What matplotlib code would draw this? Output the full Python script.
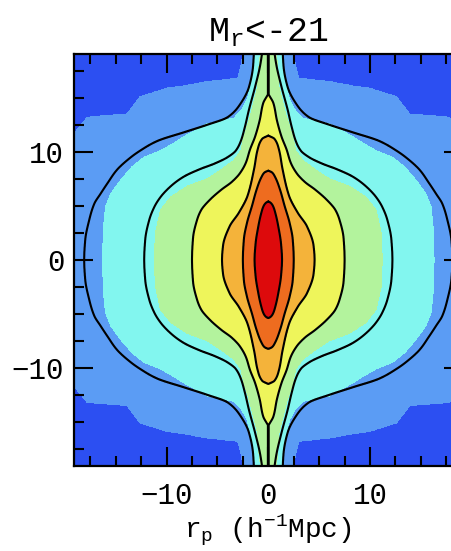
import numpy as np
import matplotlib
matplotlib.use("Agg")
import matplotlib.pyplot as plt
from matplotlib.ticker import MultipleLocator

# ---------------- data ----------------
# Half-widths |r_p| (h^-1 Mpc) of each contour, tabulated against |pi| (h^-1 Mpc).
# Smooth model contours (black lines), outermost -> innermost.
L1_pi = [0, 1.8, 3.7, 5.2, 6.1, 7.1, 8.3, 9.5, 10.1, 11.0, 11.8, 12.5, 13.2, 14.5, 16.0, 17.9, 19.5]
L1_rp = [18.1, 18.0, 17.6, 17.1, 16.5, 15.8, 14.9, 13.5, 12.6, 10.9, 8.3, 6.0, 4.0, 2.7, 1.9, 1.5, 1.4]
L2_pi = [0, 1.85, 3.7, 4.9, 5.8, 6.8, 7.7, 8.4, 8.9, 9.5, 10.1, 11.0, 12.3, 13.9, 16.0, 18.0, 19.5]
L2_rp = [12.2, 12.1, 11.7, 11.2, 10.6, 9.6, 8.3, 6.7, 5.3, 4.0, 3.2, 2.7, 2.3, 1.9, 1.3, 0.8, 0.55]
L3_pi = [0, 2.0, 3.7, 4.6, 5.5, 6.5, 7.2, 8.0, 9.0, 10.2, 11.4, 12.9, 14.5, 15.2, 15.3, 19.5]
L3_rp = [7.5, 7.4, 7.0, 6.6, 5.8, 4.6, 3.6, 2.8, 2.2, 1.8, 1.3, 0.85, 0.5, 0.1, 0.04, 0.04]
L4_pi = [0, 1.3, 3.1, 4.35, 5.9, 8.4, 10.2, 11.2, 11.5]
L4_rp = [4.55, 4.45, 3.8, 2.9, 2.05, 1.4, 1.05, 0.6, 0.0]
L5_pi = [0, 1.9, 3.4, 5.0, 6.5, 7.7, 8.1, 8.25]
L5_rp = [2.5, 2.4, 2.1, 1.6, 1.15, 0.65, 0.35, 0.0]
L6_pi = [0, 1.5, 3.0, 4.3, 5.0, 5.3, 5.4]
L6_rp = [1.35, 1.25, 1.0, 0.7, 0.45, 0.2, 0.0]

# Measured (noisy) filled-region boundaries, outermost -> innermost.
B0_pi = [0, 11.0, 11.7, 13.2, 13.4, 13.5, 15.1, 15.9, 16.1, 16.5, 16.8, 17.9, 19.5]
B0_rp = [25, 25, 19.1, 17.8, 15.2, 13.9, 12.6, 9.9, 8.3, 6.0, 3.0, 2.7, 2.4]
B1_pi = [0, 3.05, 4.9, 6.1, 7.4, 8.6, 9.5, 10.1, 10.8, 11.4, 12.6, 13.1, 13.9, 14.8, 16.6, 19.5]
B1_rp = [16.3, 16.2, 16.0, 15.5, 14.5, 13.4, 12.2, 10.6, 9.3, 8.3, 6.0, 3.4, 2.6, 2.1, 1.6, 1.2]
B2_pi = [0, 2.45, 4.6, 5.8, 6.8, 7.5, 8.3, 9.2, 10.1, 11.4, 13.2, 16.0, 18.2, 19.5]
B2_rp = [11.2, 11.1, 10.6, 9.6, 8.0, 6.0, 4.7, 3.4, 2.7, 2.4, 1.8, 1.05, 0.9, 0.7]
B3_pi = [0, 2.0, 3.7, 4.6, 5.5, 6.5, 7.2, 8.0, 9.0, 10.2, 11.4, 12.9, 14.5, 15.2]
B3_rp = [7.4, 7.3, 6.9, 6.5, 5.7, 4.5, 3.5, 2.7, 2.1, 1.7, 1.2, 0.8, 0.45, 0.0]
B4_pi = L4_pi
B4_rp = L4_rp
B5_pi = L5_pi
B5_rp = L5_rp
B6_pi = L6_pi
B6_rp = L6_rp

fill_colors = ["#2c4ff2", "#5b9cf4", "#82f6ef", "#b3f39d",
               "#eef55b", "#f4b33a", "#ee6c1f", "#dd0a0c"]
title_text = r"$\mathrm{M_r}$<-21"
xlabel_text = r"$\mathrm{r_p}$ (h$^{\mathrm{-1}}$Mpc)"
major_ticks = [-10, 0, 10]

# ---------------- helpers ----------------
def pchip(xk, yk, x):
    xk = np.asarray(xk, float); yk = np.asarray(yk, float)
    h = np.diff(xk); delta = np.diff(yk) / h
    n = len(xk)
    d = np.zeros(n)
    for i in range(1, n - 1):
        if delta[i - 1] * delta[i] > 0:
            w1 = 2 * h[i] + h[i - 1]; w2 = h[i] + 2 * h[i - 1]
            d[i] = (w1 + w2) / (w1 / delta[i - 1] + w2 / delta[i])
    d[0] = 0.0
    d[-1] = delta[-1]
    idx = np.clip(np.searchsorted(xk, x) - 1, 0, n - 2)
    t = np.clip((x - xk[idx]) / h[idx], 0, 1)
    h00 = 2 * t**3 - 3 * t**2 + 1; h10 = t**3 - 2 * t**2 + t
    h01 = -2 * t**3 + 3 * t**2; h11 = t**3 - t**2
    y = h00 * yk[idx] + h10 * h[idx] * d[idx] + h01 * yk[idx + 1] + h11 * h[idx] * d[idx + 1]
    return np.where(x > xk[-1], -1.0, y)

step = 0.025
grid = np.arange(-19.5, 19.5 + step / 2, step)
R, P = np.meshgrid(grid, grid)
aR, aP = np.abs(R), np.abs(P)

def field(tables, smooth):
    F = np.zeros_like(R)
    for pn, wn in tables:
        if smooth:
            w = pchip(pn, wn, aP)
        else:
            w = np.interp(aP, pn, wn, right=-1.0)
        F += np.clip((w - aR) / step + 0.5, 0, 1)
    return F

F_fill = field([(B0_pi, B0_rp), (B1_pi, B1_rp), (B2_pi, B2_rp),
                (B3_pi, B3_rp), (B4_pi, B4_rp), (B5_pi, B5_rp), (B6_pi, B6_rp)], smooth=False)
F_line = field([(L1_pi, L1_rp), (L2_pi, L2_rp), (L3_pi, L3_rp),
                (L4_pi, L4_rp), (L5_pi, L5_rp), (L6_pi, L6_rp)], smooth=True)

# ---------------- plotting ----------------
plt.rcParams["font.family"] = ["Liberation Mono", "DejaVu Sans Mono"]
plt.rcParams["mathtext.fontset"] = "custom"
plt.rcParams["mathtext.rm"] = "Liberation Mono"
plt.rcParams["mathtext.it"] = "Liberation Mono"
plt.rcParams["mathtext.bf"] = "Liberation Mono:bold"

fig = plt.figure(figsize=(4.52, 5.51), dpi=100)
ax = fig.add_axes([74 / 452, 1 - 465.6 / 551, 388.6 / 452, 411.6 / 551])

ax.contourf(R, P, F_fill, levels=np.arange(-0.5, 8.0, 1.0), colors=fill_colors)
ax.contour(R, P, F_line, levels=np.arange(0.5, 6.0, 1.0), colors="black", linewidths=1.5)

ax.set_xlim(-19.1, 19.1)
ax.set_ylim(-19.05, 19.05)
ax.set_xticks(major_ticks)
ax.set_yticks(major_ticks)
ax.xaxis.set_minor_locator(MultipleLocator(2.5))
ax.yaxis.set_minor_locator(MultipleLocator(2.5))
ax.tick_params(which="both", direction="in", top=True, right=True, width=1.5, colors="black")
ax.tick_params(which="major", length=13.5, labelsize=21)
ax.tick_params(which="minor", length=7)
ax.tick_params(axis="x", which="major", pad=12)
ax.tick_params(axis="y", which="major", pad=7)
for s in ax.spines.values():
    s.set_linewidth(1.6)

ax.set_title(title_text, fontsize=25, pad=9)
ax.set_xlabel(xlabel_text, fontsize=20, labelpad=2)

fig.savefig("out.png", dpi=100)
